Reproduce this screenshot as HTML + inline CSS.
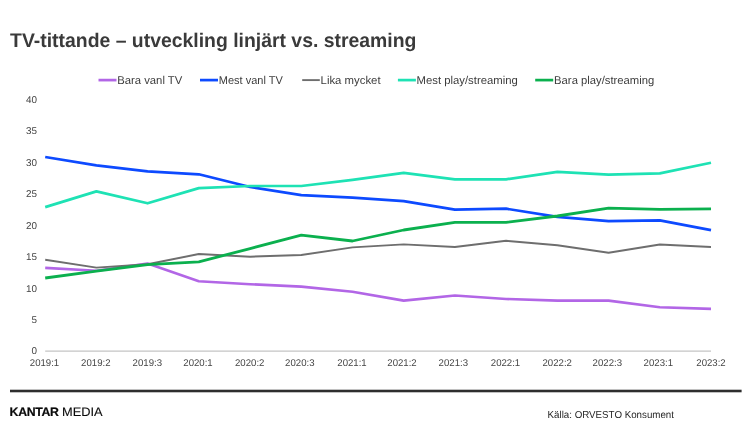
<!DOCTYPE html>
<html><head><meta charset="utf-8"><title>TV-tittande</title>
<style>
html,body{margin:0;padding:0;background:#fff;}
body{width:750px;height:438px;overflow:hidden;position:relative;font-family:"Liberation Sans",Arial,sans-serif;}
svg{position:absolute;left:0;top:0;display:block;}
svg text{font-family:"Liberation Sans",Arial,sans-serif;text-rendering:geometricPrecision;}
</style></head><body>
<svg width="750" height="438" viewBox="0 0 750 438">
<rect width="750" height="438" fill="#fff"/>
<text x="10.1" y="46.9" font-size="19.8" font-weight="700" fill="#3a3a3a" textLength="406.3" lengthAdjust="spacingAndGlyphs">TV-tittande – utveckling linjärt vs. streaming</text>

<line x1="98.5" y1="80.1" x2="116.5" y2="80.1" stroke="#b266e6" stroke-width="2.7"/>
<text x="117.2" y="83.8" font-size="11.3" fill="#3c3c3c" textLength="65.1" lengthAdjust="spacingAndGlyphs">Bara vanl TV</text>
<line x1="200.0" y1="80.1" x2="218.0" y2="80.1" stroke="#0d4aff" stroke-width="2.7"/>
<text x="218.8" y="83.8" font-size="11.3" fill="#3c3c3c" textLength="64.0" lengthAdjust="spacingAndGlyphs">Mest vanl TV</text>
<line x1="302.2" y1="80.1" x2="319.8" y2="80.1" stroke="#6e6e6e" stroke-width="1.9"/>
<text x="320.6" y="83.8" font-size="11.3" fill="#3c3c3c" textLength="60.0" lengthAdjust="spacingAndGlyphs">Lika mycket</text>
<line x1="397.9" y1="80.1" x2="415.9" y2="80.1" stroke="#1ee2b4" stroke-width="2.7"/>
<text x="416.5" y="83.8" font-size="11.3" fill="#3c3c3c" textLength="101.3" lengthAdjust="spacingAndGlyphs">Mest play/streaming</text>
<line x1="535.2" y1="80.1" x2="553.2" y2="80.1" stroke="#0bb04e" stroke-width="2.7"/>
<text x="554.1" y="83.8" font-size="11.3" fill="#3c3c3c" textLength="100.2" lengthAdjust="spacingAndGlyphs">Bara play/streaming</text>
<text x="36.9" y="354.4" font-size="9.9" fill="#444" text-anchor="end">0</text>
<text x="36.9" y="323.0" font-size="9.9" fill="#444" text-anchor="end">5</text>
<text x="36.9" y="291.5" font-size="9.9" fill="#444" text-anchor="end">10</text>
<text x="36.9" y="260.1" font-size="9.9" fill="#444" text-anchor="end">15</text>
<text x="36.9" y="228.7" font-size="9.9" fill="#444" text-anchor="end">20</text>
<text x="36.9" y="197.2" font-size="9.9" fill="#444" text-anchor="end">25</text>
<text x="36.9" y="165.8" font-size="9.9" fill="#444" text-anchor="end">30</text>
<text x="36.9" y="134.4" font-size="9.9" fill="#444" text-anchor="end">35</text>
<text x="36.9" y="103.0" font-size="9.9" fill="#444" text-anchor="end">40</text>
<line x1="45.2" y1="351" x2="711" y2="351" stroke="#c4c4c4" stroke-width="1.25"/>
<text x="29.8" y="366.1" font-size="9.8" fill="#444" textLength="29.4" lengthAdjust="spacingAndGlyphs">2019:1</text>
<text x="81.1" y="366.1" font-size="9.8" fill="#444" textLength="29.4" lengthAdjust="spacingAndGlyphs">2019:2</text>
<text x="132.6" y="366.1" font-size="9.8" fill="#444" textLength="29.4" lengthAdjust="spacingAndGlyphs">2019:3</text>
<text x="183.3" y="366.1" font-size="9.8" fill="#444" textLength="29.4" lengthAdjust="spacingAndGlyphs">2020:1</text>
<text x="235.0" y="366.1" font-size="9.8" fill="#444" textLength="29.4" lengthAdjust="spacingAndGlyphs">2020:2</text>
<text x="285.1" y="366.1" font-size="9.8" fill="#444" textLength="29.4" lengthAdjust="spacingAndGlyphs">2020:3</text>
<text x="337.3" y="366.1" font-size="9.8" fill="#444" textLength="29.4" lengthAdjust="spacingAndGlyphs">2021:1</text>
<text x="387.3" y="366.1" font-size="9.8" fill="#444" textLength="29.4" lengthAdjust="spacingAndGlyphs">2021:2</text>
<text x="438.6" y="366.1" font-size="9.8" fill="#444" textLength="29.4" lengthAdjust="spacingAndGlyphs">2021:3</text>
<text x="490.8" y="366.1" font-size="9.8" fill="#444" textLength="29.4" lengthAdjust="spacingAndGlyphs">2022:1</text>
<text x="542.5" y="366.1" font-size="9.8" fill="#444" textLength="29.4" lengthAdjust="spacingAndGlyphs">2022:2</text>
<text x="592.6" y="366.1" font-size="9.8" fill="#444" textLength="29.4" lengthAdjust="spacingAndGlyphs">2022:3</text>
<text x="643.6" y="366.1" font-size="9.8" fill="#444" textLength="29.4" lengthAdjust="spacingAndGlyphs">2023:1</text>
<text x="696.3" y="366.1" font-size="9.8" fill="#444" textLength="29.4" lengthAdjust="spacingAndGlyphs">2023:2</text>
<polyline points="45.2,267.9 96.4,270.7 147.6,263.6 198.8,281.3 250.1,284.2 301.3,286.6 352.5,291.8 403.7,300.6 454.9,295.5 506.1,299.0 557.4,300.6 608.6,300.6 659.8,307.2 711.0,308.9" fill="none" stroke="#b266e6" stroke-width="2.6" stroke-linejoin="round" stroke-linecap="butt"/>
<polyline points="45.2,157.0 96.4,165.3 147.6,171.4 198.8,174.3 250.1,187.0 301.3,195.1 352.5,197.6 403.7,201.1 454.9,209.7 506.1,208.7 557.4,216.8 608.6,221.1 659.8,220.3 711.0,230.2" fill="none" stroke="#0d4aff" stroke-width="2.7" stroke-linejoin="round" stroke-linecap="butt"/>
<polyline points="45.2,259.8 96.4,267.6 147.6,264.3 198.8,254.0 250.1,256.7 301.3,255.0 352.5,247.4 403.7,244.4 454.9,247.0 506.1,240.8 557.4,245.3 608.6,252.8 659.8,244.5 711.0,247.0" fill="none" stroke="#6e6e6e" stroke-width="1.9" stroke-linejoin="round" stroke-linecap="butt"/>
<polyline points="45.2,207.1 96.4,191.4 147.6,203.3 198.8,188.1 250.1,186.0 301.3,186.0 352.5,179.9 403.7,172.9 454.9,179.3 506.1,179.3 557.4,171.9 608.6,174.7 659.8,173.4 711.0,162.8" fill="none" stroke="#1ee2b4" stroke-width="2.7" stroke-linejoin="round" stroke-linecap="butt"/>
<polyline points="45.2,278.0 96.4,271.2 147.6,264.6 198.8,261.8 250.1,248.6 301.3,235.1 352.5,241.0 403.7,230.0 454.9,222.4 506.1,222.4 557.4,216.0 608.6,208.2 659.8,209.4 711.0,208.9" fill="none" stroke="#0bb04e" stroke-width="2.8" stroke-linejoin="round" stroke-linecap="butt"/>
<rect x="10" y="389.7" width="731.6" height="2.6" fill="#2e2e2e"/>
<text x="9.6" y="415.7" font-size="12.3" font-weight="700" fill="#0a0a0a" stroke="#0a0a0a" stroke-width="0.2" textLength="49.4" lengthAdjust="spacing">KANTAR</text>
<text x="62.0" y="415.7" font-size="12.3" fill="#0a0a0a" stroke="#0a0a0a" stroke-width="0.12" textLength="40.6" lengthAdjust="spacingAndGlyphs">MEDIA</text>
<text x="547.6" y="418.2" font-size="10.1" fill="#262626" textLength="126.4" lengthAdjust="spacingAndGlyphs">Källa: ORVESTO Konsument</text>
</svg></body></html>
